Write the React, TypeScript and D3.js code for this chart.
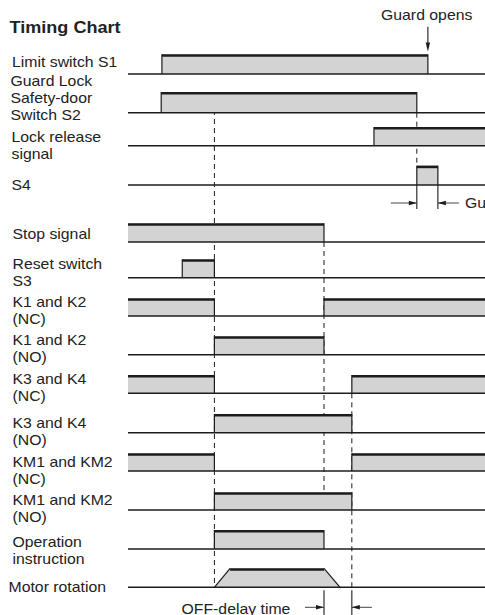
import { useRef, useEffect } from 'react';
import * as d3 from 'd3';

// Event times on a 0..100 time axis (0 = left end of traces, 100 = right edge)
const signalLabels: string[][] = [
  ['Limit switch S1'],
  ['Guard Lock', 'Safety-door', 'Switch S2'],
  ['Lock release', 'signal'],
  ['S4'],
  ['Stop signal'],
  ['Reset switch', 'S3'],
  ['K1 and K2', '(NC)'],
  ['K1 and K2', '(NO)'],
  ['K3 and K4', '(NC)'],
  ['K3 and K4', '(NO)'],
  ['KM1 and KM2', '(NC)'],
  ['KM1 and KM2', '(NO)'],
  ['Operation', 'instruction'],
  ['Motor rotation'],
];

// ON intervals per signal
const onIntervals: [number, number][][] = [
  [[9.5, 84.0]],
  [[9.3, 80.9]],
  [[68.9, 100]],
  [[80.9, 86.8]],
  [[0, 54.9]],
  [[15.2, 24.2]],
  [[0, 24.2], [54.9, 100]],
  [[24.2, 54.9]],
  [[0, 24.2], [62.7, 100]],
  [[24.2, 62.7]],
  [[0, 24.2], [62.7, 100]],
  [[24.2, 62.7]],
  [[24.2, 54.9]],
  [],
];

// motor speed ramps up and coasts down (time, level)
const motorProfile: [number, number][] = [[24.2, 0], [28.6, 1], [54.9, 1], [59.4, 0]];

const guardOpens = 84.0;
const guardTime: [number, number] = [80.9, 86.8];
const offDelay: [number, number] = [54.9, 62.7];

// layout
const rowBase = [74, 112.7, 145.7, 185, 242, 277.7, 316, 354.7, 393.3, 432.7, 471, 510, 549, 587.3];
const rowHeight = [19.7, 20.7, 18.7, 19.3, 18.7, 18.4, 17.7, 18.4, 18.3, 18.7, 17.7, 17.7, 19, 19];
const labelX = [12, 10.5, 11.5, 11.5, 12.5, 12.5, 12.5, 12.5, 12.5, 12.5, 12.5, 12.5, 12.5, 8.5];
const labelBaseline = [66.5, 86, 141.7, 190, 238.5, 268.5, 306.7, 345, 384, 428.3, 466.7, 505, 547.3, 591.7];

const W = 485;
const H = 615;
const INK = '#1c1c1c';
const FILL = '#d3d3d3';
const FONT = '"Liberation Sans", Arial, sans-serif';
const SX = 1.13; // text is a bit wider than Arial

export default function App() {
  const svgRef = useRef<SVGSVGElement>(null);

  useEffect(() => {
    if (!svgRef.current) return;
    const svg = d3.select(svgRef.current);
    svg.selectAll('*').remove();

    const x = d3.scaleLinear().domain([0, 100]).range([128, 485]);
    const level = (i: number) =>
      d3.scaleLinear().domain([0, 1]).range([rowBase[i], rowBase[i] - rowHeight[i]]);

    const g = svg.append('g') as d3.Selection<SVGGElement, unknown, null, undefined>;

    const addText = (str: string, tx: number, ty: number, size = 14, weight = 'normal') => {
      g.append('text')
        .attr('transform', `translate(${tx},${ty}) scale(${SX},1)`)
        .attr('font-family', FONT)
        .attr('font-size', size)
        .attr('font-weight', weight)
        .attr('fill', '#222')
        .text(str);
    };

    // Title
    addText('Timing Chart', 9.5, 32.5, 16, 'bold');

    // Labels
    signalLabels.forEach((lines, i) => {
      lines.forEach((l, k) => addText(l, labelX[i], labelBaseline[i] + k * 17));
    });

    // Dashed guide lines
    const guides = [
      { t: 24.2, y1: rowBase[1] - rowHeight[1], y2: rowBase[13] },
      { t: guardTime[0], y1: rowBase[1], y2: rowBase[3] - rowHeight[3] },
      { t: 54.9, y1: rowBase[4], y2: rowBase[11] - rowHeight[11] },
      { t: 62.7, y1: rowBase[8], y2: rowBase[13] + 2 },
    ];
    guides.forEach(d => {
      g.append('line')
        .attr('x1', x(d.t)).attr('x2', x(d.t))
        .attr('y1', d.y1).attr('y2', d.y2)
        .attr('stroke', INK).attr('stroke-width', 1)
        .attr('stroke-dasharray', '5,4');
    });

    // Waveforms
    signalLabels.forEach((_, i) => {
      const y = level(i);
      const shapes: [number, number][][] = i === 13
        ? [motorProfile]
        : onIntervals[i].map(([a, b]) => [[a, 0], [a, 1], [b, 1], [b, 0]] as [number, number][]);

      const line = d3.line<[number, number]>().x(d => x(d[0])).y(d => y(d[1]));

      shapes.forEach(p => {
        g.append('path')
          .attr('d', line(p) + 'Z')
          .attr('fill', FILL).attr('stroke', 'none');
        // edges (skip at the chart ends)
        for (let k = 0; k < p.length - 1; k++) {
          const a = p[k], b = p[k + 1];
          if (a[1] === b[1]) continue;
          if ((a[0] === 0 || a[0] === 100) && a[0] === b[0]) continue;
          g.append('line')
            .attr('x1', x(a[0])).attr('y1', y(a[1]))
            .attr('x2', x(b[0])).attr('y2', y(b[1]))
            .attr('stroke', INK).attr('stroke-width', 1.2);
        }
        // thick top line
        const top = p.filter(d => d[1] === 1);
        g.append('line')
          .attr('x1', x(top[0][0])).attr('x2', x(top[top.length - 1][0]))
          .attr('y1', y(1) + 1.2).attr('y2', y(1) + 1.2)
          .attr('stroke', INK).attr('stroke-width', 2.6);
      });

      // baseline
      g.append('line')
        .attr('x1', x(0)).attr('x2', x(100))
        .attr('y1', rowBase[i]).attr('y2', rowBase[i])
        .attr('stroke', INK).attr('stroke-width', 1.4);
    });

    const arrowHead = (tipX: number, tipY: number, dir: number) => {
      g.append('path')
        .attr('d', `M${tipX},${tipY} L${tipX - dir * 8},${tipY - 2.3} L${tipX - dir * 8},${tipY + 2.3} Z`)
        .attr('fill', INK);
    };

    // "Guard opens" arrow
    addText('Guard opens', 381, 20, 14);
    const gx = x(guardOpens);
    g.append('line').attr('x1', gx).attr('x2', gx).attr('y1', 26.7).attr('y2', 45)
      .attr('stroke', INK).attr('stroke-width', 1.1);
    g.append('path')
      .attr('d', `M${gx},${51.5} L${gx - 2.2},${42.5} L${gx + 2.2},${42.5} Z`)
      .attr('fill', INK);

    // dimension markers
    const dimension = (t: [number, number], y1: number, y2: number, ya: number, left: number, right: number) => {
      const a = x(t[0]), b = x(t[1]);
      [a, b].forEach(v => {
        g.append('line').attr('x1', v).attr('x2', v).attr('y1', y1).attr('y2', y2)
          .attr('stroke', INK).attr('stroke-width', 1.1);
      });
      g.append('line').attr('x1', a - left).attr('x2', a).attr('y1', ya).attr('y2', ya)
        .attr('stroke', '#444').attr('stroke-width', 1);
      g.append('line').attr('x1', b).attr('x2', b + right).attr('y1', ya).attr('y2', ya)
        .attr('stroke', '#444').attr('stroke-width', 1);
      arrowHead(a, ya, 1);
      arrowHead(b, ya, -1);
    };

    dimension(guardTime, rowBase[3], 209, 203, 26, 21);
    addText('Guard lock time', 465, 208, 14);

    dimension(offDelay, rowBase[13] + 3, H, 607.3, 19, 20);
    addText('OFF-delay time', 181.5, 614, 14);
  }, []);

  return (
    <svg
      ref={svgRef}
      width={W}
      height={H}
      style={{ position: 'fixed', left: 0, top: 0, background: '#fff' }}
    />
  );
}
